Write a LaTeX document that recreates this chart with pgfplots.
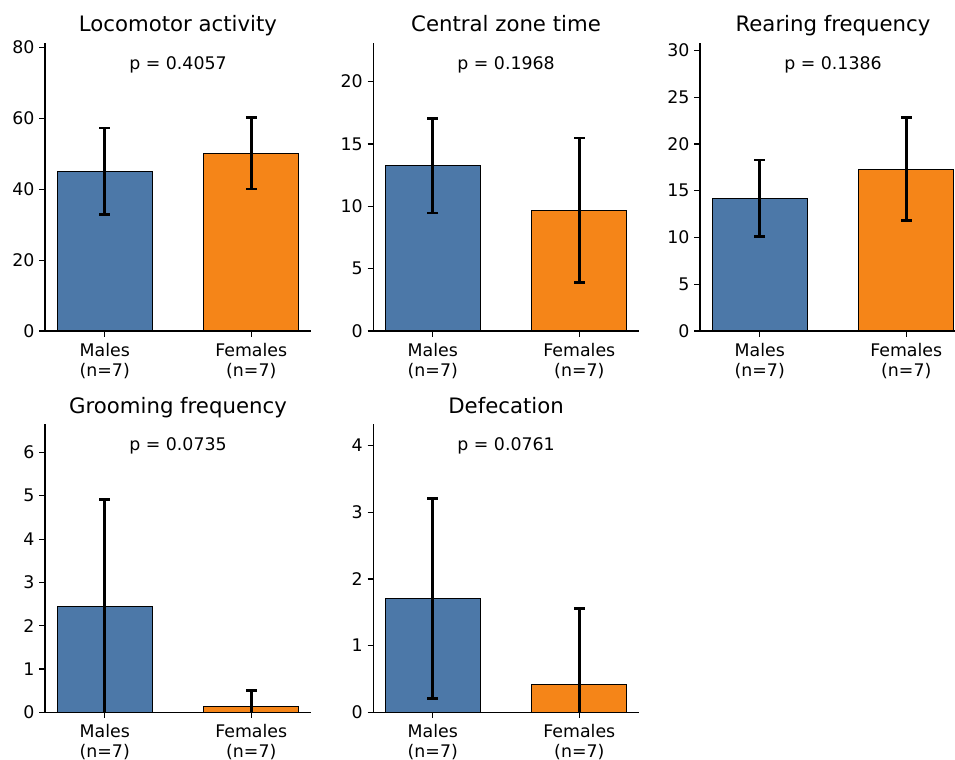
\documentclass[border=0pt]{standalone}
\usepackage{fontspec}
\setmainfont{DejaVu Sans}
\usepackage{pgfplots}
\pgfplotsset{compat=1.18}
\definecolor{mblue}{HTML}{4C78A8}
\definecolor{morange}{HTML}{F58518}
\tikzset{ptext/.style={font=\fontsize{12.5}{15}\selectfont, anchor=center}}
\pgfplotsset{
  panel/.style={
    scale only axis,
    width=191.5pt, height=207.4pt,
    anchor=south west,
    xmin=-0.4075, xmax=1.4075,
    ymin=0,
    axis x line*=bottom, axis y line*=left,
    axis line style={line width=0.8pt, black},
    tick align=outside,
    major tick length=4pt,
    tick style={line width=0.8pt, black},
    xtick={0,1},
    xticklabels={{Males\\(n=7)},{Females\\(n=7)}},
    xticklabel style={align=center, font=\fontsize{12.5}{14.4}\selectfont, yshift=-1.2pt},
    yticklabel style={font=\fontsize{12.5}{15}\selectfont},
    /pgf/number format/assume math mode=true,
    every axis title shift=0pt,
    title style={at={(0.5,1)}, anchor=base, yshift=8pt, font=\fontsize{15.3}{18}\selectfont},
    ybar, bar width=0.65, bar shift=0pt,
    every axis plot/.append style={draw=black, line width=0.8pt},
    error bars/error bar style={line width=1.9pt, black},
    error bars/error mark=-,
    error bars/error mark options={rotate=90, line width=1.9pt, black, mark size=3.8pt},
  },
}
\begin{document}
\begin{tikzpicture}
% Locomotor activity
\begin{axis}[panel, at={(32.4pt,308.16pt)}, ymax=81.3, ytick={0,20,40,60,80}, title={Locomotor activity}]
\addplot[fill=mblue, error bars/.cd, y dir=both, y explicit] coordinates {(0,45.1) +- (0,12.2)};
\addplot[fill=morange, error bars/.cd, y dir=both, y explicit] coordinates {(1,50.15) +- (0,10.05)};
\node[ptext] at (axis cs:0.5,75.25) {p = 0.4057};
\end{axis}
% Central zone time
\begin{axis}[panel, at={(268.6pt,308.16pt)}, ymax=23.1, ytick={0,5,10,15,20}, title={Central zone time}]
\addplot[fill=mblue, error bars/.cd, y dir=both, y explicit] coordinates {(0,13.25) +- (0,3.8)};
\addplot[fill=morange, error bars/.cd, y dir=both, y explicit] coordinates {(1,9.68) +- (0,5.79)};
\node[ptext] at (axis cs:0.5,21.34) {p = 0.1968};
\end{axis}
% Rearing frequency
\begin{axis}[panel, at={(504pt,308.16pt)}, ymax=30.8, ytick={0,5,10,15,20,25,30}, title={Rearing frequency}]
\addplot[fill=mblue, error bars/.cd, y dir=both, y explicit] coordinates {(0,14.2) +- (0,4.1)};
\addplot[fill=morange, error bars/.cd, y dir=both, y explicit] coordinates {(1,17.3) +- (0,5.5)};
\node[ptext] at (axis cs:0.5,28.5) {p = 0.1386};
\end{axis}
% Grooming frequency
\begin{axis}[panel, at={(32.4pt,33.6pt)}, ymax=6.65, ytick={0,1,2,3,4,5,6}, title={Grooming frequency}]
\addplot[fill=mblue, error bars/.cd, y dir=both, y explicit] coordinates {(0,2.44) +- (0,2.48)};
\addplot[fill=morange, error bars/.cd, y dir=both, y explicit] coordinates {(1,0.13) +- (0,0.37)};
\node[ptext] at (axis cs:0.5,6.15) {p = 0.0735};
\end{axis}
% Defecation
\begin{axis}[panel, at={(268.6pt,33.6pt)}, ymax=4.32, ytick={0,1,2,3,4}, title={Defecation}]
\addplot[fill=mblue, error bars/.cd, y dir=both, y explicit] coordinates {(0,1.71) +- (0,1.5)};
\addplot[fill=morange, error bars/.cd, y dir=both, y explicit] coordinates {(1,0.42) +- (0,1.14)};
\node[ptext] at (axis cs:0.5,4.0) {p = 0.0761};
\end{axis}
\pgfresetboundingbox
\useasboundingbox (0,0) rectangle (687.6pt,546.48pt);
\end{tikzpicture}
\end{document}
